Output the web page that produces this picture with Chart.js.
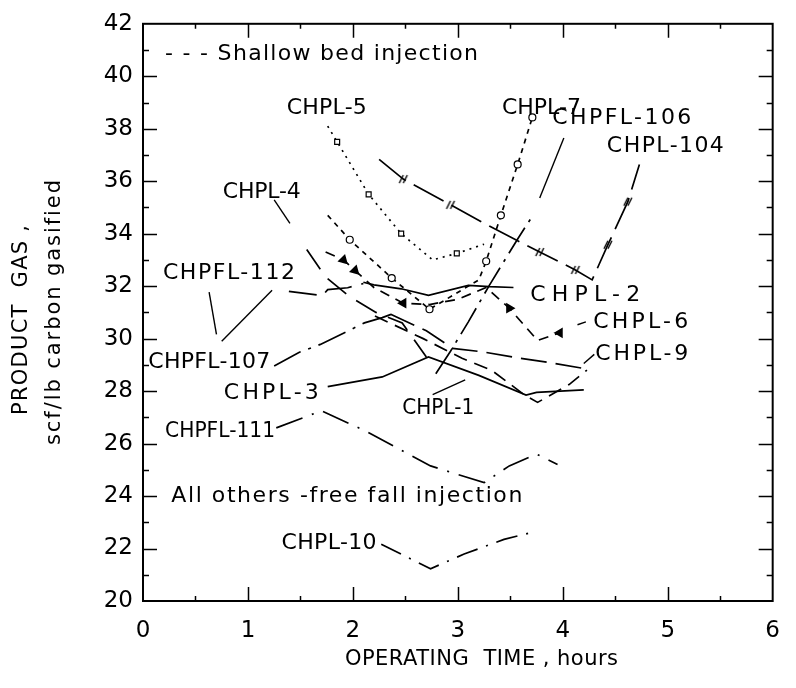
<!DOCTYPE html>
<html><head><meta charset="utf-8">
<script src="https://cdn.jsdelivr.net/npm/chart.js@4/dist/chart.umd.min.js"></script>
<style>html,body{margin:0;padding:0;background:#fff}</style>
</head><body>
<canvas id="c" width="796" height="688"></canvas>
<script>
// ---- axis ticks ----
const xTickValues = [0,1,2,3,4,5,6];
const yTickValues = [20,22,24,26,28,30,32,34,36,38,40,42];

// ---- series (operating time, hours / product gas, scf per lb carbon gasified) ----
const chpl5T = [1.76,1.85,2.15,2.46,2.76,2.99,3.25];
const chpl5V = [38.1,37.5,35.5,34.0,33.0,33.25,33.6];
const chpl7T = [1.76,1.97,2.37,2.73,3.20,3.27,3.41,3.57,3.71];
const chpl7V = [34.7,33.77,32.31,31.12,32.24,32.95,34.7,36.64,38.43];
const chpl104T = [2.25,2.48,2.93,3.30,3.57,3.78,4.12,4.28,4.43,4.62,4.73];
const chpl104V = [36.83,36.08,35.1,34.29,33.73,33.3,32.62,32.24,33.58,35.22,36.64];
const chpfl106T = [2.79,2.93,3.10,3.30,3.57,3.72];
const chpfl106V = [28.66,29.52,30.64,32.03,33.8,34.73];
const chpl4T = [1.56,1.74,1.97,2.22,2.47,2.70];
const chpl4V = [33.4,32.35,31.6,31.0,30.6,29.3];
const chpfl112T = [1.39,1.71,1.76,1.95,2.10];
const chpfl112V = [31.8,31.64,31.87,31.94,32.1];
const chpl2T = [2.10,2.20,2.46,2.72,3.10,3.30,3.53];
const chpl2V = [32.15,32.05,31.9,31.65,32.03,31.98,31.95];
const chpl6T = [1.74,1.91,2.02,2.20,2.48,2.73,3.00,3.27,3.49,3.76,3.97];
const chpl6V = [33.3,33.0,32.6,31.95,31.35,31.3,31.5,31.95,31.16,29.93,30.22];
const chpl9T = [2.36,2.70,2.95,3.23,3.52,3.90,4.22];
const chpl9V = [30.93,30.3,29.63,29.5,29.3,29.07,28.85];
const chpfl107T = [1.25,1.49,1.69,2.11,2.28,2.40];
const chpfl107V = [28.96,29.48,29.78,30.6,30.8,30.98];
const chpl3T = [1.76,2.28,2.72,3.20,3.65,3.75,4.20];
const chpl3V = [28.17,28.54,29.3,28.6,27.85,27.95,28.05];
const chpl1T = [2.21,2.67,3.04,3.32,3.63,3.76,4.06,4.23];
const chpl1V = [30.86,30.0,29.25,28.8,27.87,27.57,28.25,28.8];
const chpfl111T = [1.27,1.70,2.11,2.74,3.25,3.49,3.75,3.95];
const chpfl111V = [26.6,27.25,26.5,25.15,24.51,25.15,25.6,25.2];
const chpl10T = [2.27,2.74,3.06,3.44,3.74];
const chpl10V = [22.16,21.23,21.79,22.35,22.65];

// ---- marker presence per point ----
const chpl5Marks = [0,1,1,1,0,1,0];
const chpl7Marks = [0,1,1,1,0,1,1,1,1];
const chpl104Marks = [0,1,1,0,0,1,1,0,1,1,0];
const chpl6Marks = [0,1,1,0,1,0,0,0,1,0,1];
const chpl6Turn = [0,135,135,0,270,0,0,0,330,0,270];

// ---- label leader lines (data coords: t0, v0, t1, v1) ----
const leaders = [
  [1.25,35.29,1.40,34.39],
  [0.63,31.77,0.70,30.16],
  [0.75,29.90,1.23,31.84],
  [3.78,35.36,4.01,37.65],
  [2.76,27.87,3.07,28.43],
  [4.14,30.53,4.22,30.64],
  [4.20,29.05,4.30,29.40]
];

// ---- text annotations ----
const noteText = ["- - - Shallow bed injection","CHPL-5","CHPL-7","CHPFL-106","CHPL-104","CHPL-4","CHPFL-112","CHPL-2","CHPL-6","CHPL-9","CHPFL-107","CHPL-3","CHPL-1","CHPFL-111","All others -free fall injection","CHPL-10"];
const noteT = [0.21,1.37,3.42,3.90,4.42,0.76,0.19,3.69,4.29,4.31,0.05,0.77,2.47,0.21,0.27,1.32];
const noteV = [40.84,38.78,38.78,38.40,37.35,35.59,32.48,31.66,30.61,29.41,29.11,27.91,27.35,26.48,24.0,22.21];
const noteW = [313,80,79,139,117,78,132,110,95,93,122,95,72,110,351,95];

const FONT = "DejaVu Sans";

function slashCanvas(){
  const c = document.createElement('canvas'); c.width = 12; c.height = 12;
  const g = c.getContext('2d'); g.strokeStyle = '#000'; g.lineWidth = 1.4;
  g.beginPath(); g.moveTo(2,10); g.lineTo(6,2); g.moveTo(6,10); g.lineTo(10,2); g.stroke();
  return c;
}
const slash = slashCanvas();

function pts(T,V){ return T.map((t,i)=>({x:t,y:V[i]})); }
function ds(T,V,dash,extra){
  return Object.assign({data:pts(T,V),borderColor:'#000',borderWidth:1.7,borderDash:dash,
    pointRadius:0,fill:false,tension:0}, extra||{});
}

const datasets = [
  ds(chpl5T,chpl5V,[2,5],{pointRadius:chpl5Marks.map(m=>m?3.5:0),pointStyle:'rect',pointBackgroundColor:'#fff',pointBorderColor:'#000',pointBorderWidth:1.2}),
  ds(chpl7T,chpl7V,[5,5],{pointRadius:chpl7Marks.map(m=>m?3.5:0),pointStyle:'circle',pointBackgroundColor:'#fff',pointBorderColor:'#000',pointBorderWidth:1.2}),
  ds(chpl104T,chpl104V,[34,9],{pointRadius:chpl104Marks.map(m=>m?6:0),pointStyle:slash}),
  ds(chpfl106T,chpfl106V,[30,7,3,7]),
  ds(chpl4T,chpl4V,[24,12]),
  ds(chpfl112T,chpfl112V,[28,10]),
  ds(chpl2T,chpl2V,[]),
  ds(chpl6T,chpl6V,[10,7],{pointRadius:chpl6Marks.map(m=>m?4.5:0),pointStyle:'triangle',pointRotation:chpl6Turn,pointBackgroundColor:'#000',pointBorderColor:'#000'}),
  ds(chpl9T,chpl9V,[26,9]),
  ds(chpfl107T,chpfl107V,[30,8,3,8]),
  ds(chpl3T,chpl3V,[]),
  ds(chpl1T,chpl1V,[14,8]),
  ds(chpfl111T,chpfl111V,[28,10,2,10]),
  ds(chpl10T,chpl10V,[22,9,2,9])
];
leaders.forEach(l=>datasets.push(ds([l[0],l[2]],[l[1],l[3]],[],{borderWidth:1.4})));

function fitText(ctx,text,x,y,w){
  ctx.letterSpacing = '0px';
  const m = ctx.measureText(text).width;
  const n = text.length;
  if ('letterSpacing' in ctx && n>1 && w>=m-n){
    ctx.letterSpacing = ((w-m)/(n-1))+'px';
    ctx.fillText(text,x,y);
    ctx.letterSpacing = '0px';
  } else {
    ctx.save(); ctx.translate(x,y); ctx.scale(w/m,1); ctx.fillText(text,0,0); ctx.restore();
  }
}

const decor = {
  id:'decor',
  afterDraw(chart){
    const ctx = chart.ctx, a = chart.chartArea, xs = chart.scales.x, ys = chart.scales.y;
    ctx.save();
    ctx.strokeStyle = '#000'; ctx.fillStyle = '#000';
    ctx.lineWidth = 2;
    ctx.strokeRect(a.left, a.top, a.right-a.left, a.bottom-a.top);
    ctx.lineWidth = 1.5;
    ctx.beginPath();
    for (let t=0.5; t<6; t+=0.5){
      const px = Math.round(xs.getPixelForValue(t))+0.5;
      const len = (Math.abs(t-Math.round(t))<1e-6) ? 14 : 5;
      ctx.moveTo(px,a.bottom); ctx.lineTo(px,a.bottom-len);
      ctx.moveTo(px,a.top); ctx.lineTo(px,a.top+len);
    }
    for (let v=21; v<42; v+=1){
      const py = Math.round(ys.getPixelForValue(v))+0.5;
      const len = (v%2===0) ? 14 : 6;
      ctx.moveTo(a.left,py); ctx.lineTo(a.left+len,py);
      ctx.moveTo(a.right,py); ctx.lineTo(a.right-len,py);
    }
    ctx.stroke();
    ctx.font = '22px "'+FONT+'"';
    ctx.textAlign = 'left'; ctx.textBaseline = 'middle';
    noteText.forEach((s,i)=>{
      fitText(ctx,s,xs.getPixelForValue(noteT[i]),ys.getPixelForValue(noteV[i]),noteW[i]);
    });
    ctx.font = '21px "'+FONT+'"';
    ctx.textBaseline = 'middle'; ctx.textAlign = 'left';
    fitText(ctx,'OPERATING  TIME , hours',345,660,273);
    ctx.save(); ctx.translate(22,415); ctx.rotate(-Math.PI/2);
    fitText(ctx,'PRODUCT  GAS ,',0,0,190); ctx.restore();
    ctx.save(); ctx.translate(55,445); ctx.rotate(-Math.PI/2);
    fitText(ctx,'scf/lb carbon gasified',0,0,265); ctx.restore();
    ctx.restore();
  }
};

const tickFont = {family:FONT, size:23};
new Chart(document.getElementById('c'), {
  type:'line',
  data:{datasets},
  options:{
    responsive:false, animation:false, devicePixelRatio:1,
    layout:{padding:{top:14,right:8,left:0,bottom:0}},
    plugins:{legend:{display:false}, tooltip:{enabled:false}},
    scales:{
      x:{type:'linear',min:0,max:6,
         afterBuildTicks(s){ s.ticks = xTickValues.map(v=>({value:v})); },
         afterFit(s){ s.height = 87; },
         ticks:{padding:16,color:'#000',font:tickFont,maxRotation:0},
         grid:{display:false,drawTicks:false}, border:{display:false}},
      y:{type:'linear',min:20,max:42,
         afterBuildTicks(s){ s.ticks = yTickValues.map(v=>({value:v})); },
         afterFit(s){ s.width = 143; },
         ticks:{padding:10,color:'#000',font:tickFont},
         grid:{display:false,drawTicks:false}, border:{display:false}}
    }
  },
  plugins:[decor]
});
</script>
</body></html>
